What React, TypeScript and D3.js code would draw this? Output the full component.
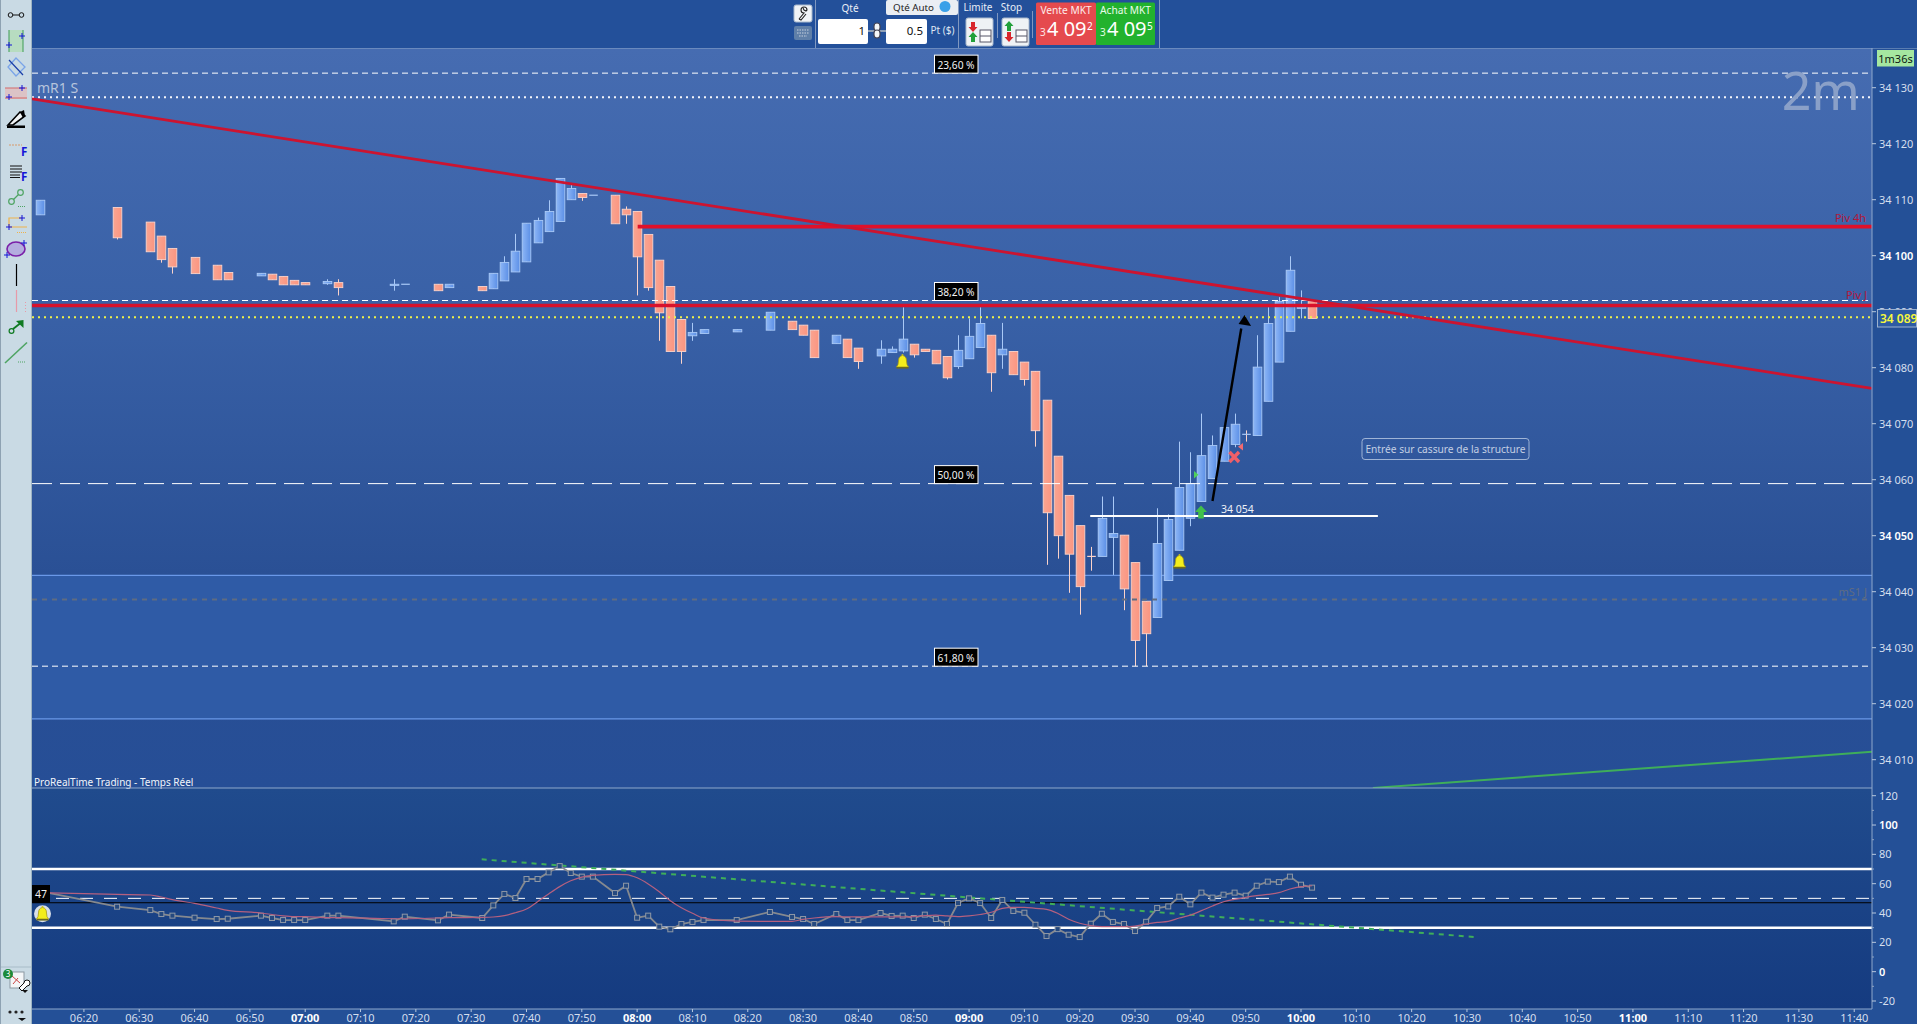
import * as d3 from "d3";

const WIDTH = 1917;
const HEIGHT = 1024;
const FONT = "'Noto Sans', 'Open Sans', sans-serif";

// bars, time of the 2 minute candle
const barTimes = [
  "06:12", "06:26", "06:32", "06:34", "06:36", "06:40", "06:44", "06:46", "06:52", "06:54", "06:56", "06:58", "07:00",
  "07:04", "07:06", "07:16", "07:18", "07:24", "07:26", "07:32", "07:34", "07:36", "07:38", "07:40", "07:42", "07:44",
  "07:46", "07:48", "07:50", "07:52", "07:56", "07:58", "08:00", "08:02", "08:04", "08:06", "08:08", "08:10", "08:12",
  "08:18", "08:24", "08:28", "08:30", "08:32", "08:36", "08:38", "08:40", "08:44", "08:46", "08:48", "08:50", "08:52",
  "08:54", "08:56", "08:58", "09:00", "09:02", "09:04", "09:06", "09:08", "09:10", "09:12", "09:14", "09:16", "09:18",
  "09:20", "09:22", "09:24", "09:26", "09:28", "09:30", "09:32", "09:34", "09:36", "09:38", "09:40", "09:42", "09:44",
  "09:46", "09:48", "09:50", "09:52", "09:54", "09:56", "09:58", "10:00", "10:02",
];
const opens = [
  34107.3, 34108.6, 34106, 34103.5, 34101.3, 34099.7, 34098.3, 34097, 34096.4, 34096.7, 34096.3, 34095.6, 34095.2,
  34095, 34095.2, 34094.7, 34094.9, 34094.9, 34094.3, 34094.5, 34094.1, 34095.5, 34097.1, 34098.9, 34102.3, 34104.3,
  34106.1, 34110, 34111.1, 34110.8, 34110.8, 34108.3, 34107.9, 34103.8, 34099.2, 34094.5, 34088.6, 34085.7, 34086.1,
  34086.4, 34086.7, 34088.3, 34087.6, 34086.7, 34084.3, 34085.1, 34083.5, 34082.1, 34082.7, 34083, 34084.2, 34083.3,
  34083.1, 34082, 34080.2, 34081.6, 34083.6, 34085.8, 34082.3, 34082.9, 34081, 34079.35, 34074.2, 34064.2, 34057.2,
  34051.8, 34046.3, 34046.3, 34049.7, 34050.1, 34045.2, 34038.3, 34035.4, 34042, 34047.4, 34053.1, 34056.1, 34060.2,
  34063.3, 34066.3, 34068.1, 34067.9, 34074, 34081, 34086.5, 34090.6, 34091.8,
];
const closes = [
  34109.9, 34103.2, 34100.7, 34099.3, 34098, 34096.8, 34095.7, 34095.7, 34096.85, 34095.7, 34094.8, 34094.8, 34094.8,
  34095.4, 34094.3, 34094.9, 34094.9, 34093.75, 34094.9, 34093.75, 34096.85, 34098.8, 34100.8, 34105.8, 34106.3, 34107.9,
  34113.8, 34112, 34110.4, 34110.8, 34105.7, 34107.3, 34099.8, 34094.3, 34089.8, 34082.9, 34082.9, 34086.3, 34086.8,
  34086.8, 34089.9, 34086.8, 34085.8, 34081.8, 34085.8, 34081.8, 34081.1, 34083.3, 34083.3, 34085.1, 34082.3, 34082.9,
  34080.7, 34078.2, 34083.1, 34085.6, 34087.9, 34079.1, 34083.3, 34078.75, 34077.9, 34068.75, 34054.1, 34050, 34046.7,
  34040.9, 34046.2, 34053.1, 34050.4, 34040.5, 34031.3, 34032.5, 34048.6, 34052.9, 34058.6, 34059.3, 34064.3, 34066.1,
  34069.3, 34069.9, 34068, 34080.1, 34087.9, 34091.8, 34097.4, 34090.8, 34088.8,
];
const highs = [
  34109.9, 34108.6, 34106, 34103.5, 34101.3, 34099.7, 34098.3, 34097, 34096.85, 34096.7, 34096.3, 34095.6, 34095.2,
  34095.8, 34095.8, 34095.8, 34094.9, 34094.9, 34094.9, 34094.5, 34096.85, 34099.9, 34103.9, 34105.8, 34106.8, 34109.9,
  34113.8, 34112.6, 34111.1, 34110.8, 34110.8, 34108.8, 34107.9, 34103.8, 34099.2, 34094.5, 34088.6, 34088, 34086.8,
  34086.8, 34089.9, 34088.3, 34087.6, 34086.7, 34085.8, 34085.1, 34083.5, 34084.9, 34083.8, 34090.8, 34084.2, 34083.3,
  34083.1, 34082, 34085.8, 34088.8, 34090.8, 34085.8, 34088, 34082.9, 34081, 34079.35, 34074.2, 34064.2, 34057.2,
  34051.8, 34048, 34057, 34057, 34050.1, 34045.2, 34038.3, 34054.9, 34053.8, 34066.8, 34064.9, 34071.8, 34067.9,
  34069.9, 34071.8, 34068.8, 34085.8, 34090.8, 34092.6, 34099.9, 34093.8, 34091.8,
];
const lows = [
  34107.3, 34102.9, 34100.7, 34098.75, 34096.8, 34096.8, 34095.7, 34095.7, 34096.4, 34095.7, 34094.8, 34094.8, 34094.8,
  34094.8, 34092.9, 34093.75, 34094.9, 34093.75, 34094.3, 34093.75, 34094.1, 34095.5, 34097.1, 34098.9, 34102.3, 34104.3,
  34106.1, 34110, 34109.8, 34110.8, 34105.7, 34105.7, 34092.9, 34093.75, 34084.8, 34082.9, 34080.7, 34084.8, 34086.1,
  34086.4, 34086.7, 34086.8, 34085.8, 34081.8, 34084.3, 34081.8, 34079.8, 34080.7, 34082.7, 34082.7, 34081.8, 34082.9,
  34080.7, 34077.9, 34079.8, 34081.6, 34083.6, 34075.7, 34079.8, 34078.75, 34076.8, 34065.9, 34044.8, 34045.9, 34039.8,
  34035.9, 34043.75, 34046.3, 34043, 34036.7, 34026.7, 34026.7, 34035.4, 34042, 34047.4, 34051.7, 34056.1, 34060.2,
  34063.3, 34065.8, 34066.8, 34067.9, 34074, 34081, 34086.5, 34088.8, 34088.8,
];

// oscillator, one value per bar
const oscValues = [
  55, 44.3, 42, 39.3, 38.2, 36.8, 35.9, 36.1, 38.2, 36.6, 35.2, 35.2, 35.2, 38.2, 38.2, 34.3, 37.5, 35, 38.9, 36.6,
  45.2, 53, 50.2, 63.2, 63.2, 67.7, 72, 67.3, 64.8, 64.8, 53.6, 58.6, 36.8, 38.2, 30.7, 28.9, 32.5, 33.9, 35.2, 35.2,
  40.7, 37.3, 35.9, 32.5, 39.3, 35.2, 35.2, 40, 38, 38.2, 36.6, 38.9, 35.9, 32.5, 46.8, 50, 46.8, 36.6, 48.9, 41.4,
  40.2, 32, 24.3, 29, 25.2, 23.6, 32.7, 39.5, 33.9, 32.5, 27.7, 34, 43.4, 44.5, 51.1, 45.9, 53.9, 50.5, 52.5, 53.9,
  51.8, 58.6, 61.4, 61.1, 64.8, 59.3, 57.3,
];
const oscAverage = [
  53.9, 52.7, 52.3, 50.9, 49.1, 46.6, 43.4, 41.8, 40, 39, 38, 37.5, 37.5, 36.8, 36.8, 36.1, 36.1, 36.6, 36.8, 37,
  37.3, 38.2, 40.2, 42.7, 47.7, 53, 58, 62, 64.5, 65.7, 66.4, 66.2, 64, 59.8, 54.5, 48.4, 43.6, 39.8, 36.6, 34.5,
  34.3, 34.3, 35.7, 36.6, 37.5, 37.3, 37.3, 37.3, 37.3, 37.3, 37.5, 38.2, 38.6, 38, 37.5, 38, 39, 40.5, 43.2, 43.9,
  43.9, 43.2, 42.5, 39.8, 35.7, 33, 31.4, 30.7, 30.7, 30.7, 31.1, 32.5, 33.6, 34.3, 36.6, 38.6, 41.6, 44.8, 47.7, 49.3,
  50.7, 51.8, 52.7, 53.9, 56.4, 58, 58.6,
];

const priceTicks = [34130, 34120, 34110, 34100, 34090, 34080, 34070, 34060, 34050, 34040, 34030, 34020, 34010];
const oscTicks = [120, 100, 80, 60, 40, 20, 0, -20];
const oscMinorTicks = [110, 90, 70, 50, 30, 10, -10];
const timeTicks = [
  "06:20", "06:30", "06:40", "06:50", "07:00", "07:10", "07:20", "07:30", "07:40", "07:50", "08:00", "08:10", "08:20",
  "08:30", "08:40", "08:50", "09:00", "09:10", "09:20", "09:30", "09:40", "09:50", "10:00", "10:10", "10:20", "10:30",
  "10:40", "10:50", "11:00", "11:10", "11:20", "11:30", "11:40",
];

// retracement levels
const fibLabels = ["23,60 %", "38,20 %", "50,00 %", "61,80 %"];
const fibPrices = [34132.6, 34092, 34059.3, 34026.7];

const CURRENT_PRICE = 34089;
const PIVOT_DAY = 34091.1;
const PIVOT_4H = 34105.2;
const MR1 = 34128.3;
const GREY_LEVEL = 34038.6;
const ZONE_TOP = 34042.9;
const ZONE_BOTTOM = 34017.3;
const ENTRY = 34053.5;

const minutes = (t: string) => {
  const [h, m] = t.split(":").map(Number);
  return h * 60 + m;
};

const PLOT = { left: 32, right: 1872, top: 48, mid: 788, bottom: 1009 };

const x = d3.scaleLinear().domain([420, 600]).range([305.2, 1301]);
const y = d3.scaleLinear().domain([34130, 34010]).range([87.7, 759.7]);
const oscY = d3.scaleLinear().domain([120, -20]).range([795.7, 1001]);

const priceFormat = d3.formatLocale({ decimal: ",", thousands: " ", grouping: [3], currency: ["", ""] }).format(",d");

const BODY = 8.6;

const oscLine = d3
  .line<number>()
  .x((_, i) => x(minutes(barTimes[i])))
  .y((d) => oscY(d));

const oscSmooth = d3
  .line<number>()
  .x((_, i) => x(minutes(barTimes[i])))
  .y((d) => oscY(d))
  .curve(d3.curveMonotoneX);

const Plus = ({ cx, cy }: { cx: number; cy: number }) => (
  <path d={`M${cx - 3},${cy}H${cx + 3}M${cx},${cy - 3}V${cy + 3}`} stroke="#1414d8" strokeWidth={1} fill="none" />
);

const Candles = () => (
  <g>
    {barTimes.map((t, i) => {
      const cx = Math.round(x(minutes(t))) + 0.5;
      const up = closes[i] >= opens[i];
      const top = y(Math.max(opens[i], closes[i]));
      const bottom = y(Math.min(opens[i], closes[i]));
      const edge = up ? "#a9c9f7" : "#fbd3ca";
      const doji = bottom - top < 1;
      return (
        <g key={t}>
          <line x1={cx} x2={cx} y1={y(highs[i])} y2={y(lows[i])} stroke={edge} strokeWidth={1} />
          {doji ? (
            <line x1={cx - BODY / 2} x2={cx + BODY / 2} y1={top} y2={top} stroke={i === 66 ? "#fbd3ca" : "#a9c9f7"} strokeWidth={1.2} />
          ) : (
            <rect
              x={cx - BODY / 2}
              y={top}
              width={BODY}
              height={bottom - top}
              fill={up ? "url(#upBody)" : "url(#downBody)"}
              stroke={edge}
              strokeWidth={0.9}
            />
          )}
        </g>
      );
    })}
  </g>
);

const Bell = ({ cx, cy }: { cx: number; cy: number }) => (
  <g transform={`translate(${cx},${cy})`}>
    <path d="M-6,5 Q-4,3 -4,-1 Q-4,-6 0,-6.5 Q4,-6 4,-1 Q4,3 6,5 Z" fill="#f4ee1c" stroke="#a59a18" strokeWidth={0.8} />
    <rect x={-6} y={5} width={12} height={1.6} fill="#6d6a20" />
    <circle cx={0} cy={-7} r={1} fill="#c9c21c" />
  </g>
);

const FibLabels = () => (
  <g>
    {fibLabels.map((label, i) => {
      const bottom = y(fibPrices[i]);
      return (
        <g key={label}>
          <rect x={934.5} y={bottom - 18} width={43.5} height={18} fill="#000" stroke="#fff" strokeWidth={1} />
          <text x={956} y={bottom - 4.5} textAnchor="middle" fontSize={10.2} fill="#f2f2f2" fontFamily={FONT}>
            {label}
          </text>
        </g>
      );
    })}
  </g>
);

const PriceAxis = () => (
  <g fontFamily={FONT} fontSize={11}>
    {priceTicks.map((p) => (
      <g key={p}>
        <line x1={PLOT.right} x2={PLOT.right + 4} y1={y(p)} y2={y(p)} stroke="#b8c8de" />
        <text x={1879} y={y(p) + 4} fill={p % 50 === 0 ? "#ffffff" : "#d5dfee"} fontWeight={p % 50 === 0 ? 600 : 400}>
          {priceFormat(p)}
        </text>
      </g>
    ))}
    <rect x={1877.5} y={309.5} width={39} height={17.5} fill="#2d5ba3" stroke="#9db2cf" strokeWidth={1} />
    <text x={1880} y={322.5} fill="#f6f63c" fontSize={12} fontWeight={600}>
      {priceFormat(CURRENT_PRICE)}
    </text>
    <rect x={1877} y={50} width={37} height={16.5} fill="#a5e7a0" />
    <text x={1895.5} y={62.5} textAnchor="middle" fill="#0c1a12" fontSize={11}>
      1m36s
    </text>
  </g>
);

const OscAxis = () => (
  <g fontFamily={FONT} fontSize={11}>
    {oscTicks.map((v) => (
      <g key={v}>
        <line x1={PLOT.right} x2={PLOT.right + 4} y1={oscY(v)} y2={oscY(v)} stroke="#b8c8de" />
        <text x={1879} y={oscY(v) + 4} fill={v % 100 === 0 ? "#ffffff" : "#d5dfee"} fontWeight={v % 100 === 0 ? 600 : 400}>
          {v}
        </text>
      </g>
    ))}
    {oscMinorTicks.map((v) => (
      <line key={v} x1={PLOT.right} x2={PLOT.right + 2} y1={oscY(v)} y2={oscY(v)} stroke="#8ea4c4" />
    ))}
  </g>
);

const TimeAxis = () => (
  <g fontFamily={FONT} fontSize={11}>
    {timeTicks.map((t) => {
      const hour = t.endsWith(":00");
      return (
        <g key={t}>
          <line x1={x(minutes(t))} x2={x(minutes(t))} y1={PLOT.bottom} y2={PLOT.bottom + 3} stroke="#b8c8de" />
          <text
            x={x(minutes(t))}
            y={1022}
            textAnchor="middle"
            fill={hour ? "#ffffff" : "#d5dfee"}
            fontWeight={hour ? 700 : 400}
          >
            {t}
          </text>
        </g>
      );
    })}
  </g>
);

const Oscillator = () => (
  <g>
    <line x1={PLOT.left} x2={PLOT.right} y1={oscY(70)} y2={oscY(70)} stroke="#fff" strokeWidth={2.4} />
    <line x1={PLOT.left} x2={PLOT.right} y1={oscY(30)} y2={oscY(30)} stroke="#fff" strokeWidth={2.4} />
    <line x1={56} x2={PLOT.right} y1={oscY(50)} y2={oscY(50)} stroke="#fff" strokeWidth={1} strokeDasharray="13 11" />
    <line x1={PLOT.left} x2={PLOT.right} y1={oscY(47)} y2={oscY(47)} stroke="#000" strokeWidth={1} />
    <line
      x1={x(451.9)}
      x2={x(631.5)}
      y1={oscY(76.6)}
      y2={oscY(23.6)}
      stroke="#3fae5a"
      strokeWidth={2}
      strokeDasharray="5 5"
    />
    <path d={oscLine(oscValues) ?? ""} fill="none" stroke="#85898f" strokeWidth={1.8} />
    {oscValues.map((v, i) => (
      <rect
        key={barTimes[i]}
        x={x(minutes(barTimes[i])) - 2.5}
        y={oscY(v) - 2.5}
        width={5}
        height={5}
        fill="#25497f"
        stroke="#8f98a6"
        strokeWidth={1}
      />
    ))}
    <path d={oscSmooth(oscAverage) ?? ""} fill="none" stroke="#b5607f" strokeWidth={1.2} />
    <rect x={PLOT.left} y={885} width={18} height={18} fill="#000" />
    <text x={41} y={898} textAnchor="middle" fontSize={10.5} fill="#f2f2f2" fontFamily={FONT}>
      47
    </text>
    <circle cx={42.5} cy={913.7} r={8.5} fill="#d9e0e8" />
    <Bell cx={42.5} cy={914} />
  </g>
);

const Levels = () => (
  <g clipPath="url(#mainClip)">
    {fibPrices.map((p, i) => (
      <line
        key={p}
        x1={PLOT.left}
        x2={PLOT.right}
        y1={y(p)}
        y2={y(p)}
        stroke="#fff"
        strokeWidth={1}
        strokeDasharray={i === 2 ? "20 8" : "6 4"}
      />
    ))}
    <line x1={PLOT.left} x2={PLOT.right} y1={y(MR1)} y2={y(MR1)} stroke="#f4f6fb" strokeWidth={2} strokeDasharray="2 4" />
    <line x1={PLOT.left} x2={PLOT.right} y1={y(GREY_LEVEL)} y2={y(GREY_LEVEL)} stroke="#5f6c82" strokeWidth={2} strokeDasharray="5 5" />
    <line x1={x(561.9)} x2={x(613.9)} y1={y(ENTRY)} y2={y(ENTRY)} stroke="#fff" strokeWidth={2} />
    <line x1={PLOT.left} x2={PLOT.right} y1={y(CURRENT_PRICE)} y2={y(CURRENT_PRICE)} stroke="#eef24a" strokeWidth={2} strokeDasharray="2 4" />
    <line x1={PLOT.left} x2={PLOT.right} y1={y(PIVOT_DAY)} y2={y(PIVOT_DAY)} stroke="#d8122c" strokeWidth={3.6} />
    <line x1={x(480.1)} x2={PLOT.right} y1={y(PIVOT_4H)} y2={y(PIVOT_4H)} stroke="#e0102a" strokeWidth={3.6} />
    <line x1={PLOT.left} x2={PLOT.right} y1={y(34128)} y2={y(34076.3)} stroke="#cc1430" strokeWidth={2.8} />
    <line x1={x(613)} x2={PLOT.right} y1={y(34004.95)} y2={y(34011.4)} stroke="#3fae5a" strokeWidth={2} />
  </g>
);

const Annotations = () => (
  <g fontFamily={FONT}>
    <line x1={x(584)} y1={y(34056.2)} x2={x(589.2)} y2={y(34087)} stroke="#000" strokeWidth={2.4} />
    <path
      d={`M${x(589.8)},${y(34089.4)} L${x(589.8) + 6.5},${y(34089.4) + 11} L${x(589.8) - 6},${y(34089.4) + 9} Z`}
      fill="#000"
    />
    <Bell cx={902.5} cy={362} />
    <Bell cx={1179.5} cy={562} />
    <path d="M1201,505.5 l6,6.5 h-3.2 v6.5 h-5.6 v-6.5 h-3.2 Z" fill="#42c04a" />
    <path d="M1194,471 l4.5,3.7 l-4.5,3.7 Z" fill="#4fd05a" />
    <path d="M1243,443 v7.5 l-5,-3.7 Z" fill="#f06a70" />
    <path d="M1229.5,452 L1239,462 M1239,452 L1229.5,462" stroke="#ef5f68" strokeWidth={3.4} />
    <text x={1221} y={513} fontSize={10.5} fill="#eef2f8">
      {priceFormat(34054)}
    </text>
    <rect x={1362} y={438.5} width={167} height={21} rx={3} fill="none" stroke="#9fb4d6" strokeWidth={1} />
    <text x={1445.5} y={453} textAnchor="middle" fontSize={10.2} fill="#c3cfe3">
      Entrée sur cassure de la structure
    </text>
    <text x={37} y={93} fontSize={14} fill="#b6c4dc">
      mR1 S
    </text>
    <text x={1860} y={110} textAnchor="end" fontSize={52} fill="#8aa0c8">
      2m
    </text>
    <text x={1866} y={222} textAnchor="end" fontSize={11} fill="#b3173a">
      Piv 4h
    </text>
    <text x={1867} y={299} textAnchor="end" fontSize={11} fill="#b3173a">
      Piv J
    </text>
    <text x={1867} y={596} textAnchor="end" fontSize={11} fill="#5f6c82">
      mS1 J
    </text>
    <text x={34} y={786} fontSize={10} fill="#f2f5fa">
      ProRealTime Trading - Temps Réel
    </text>
  </g>
);

const Toolbar = () => (
  <g>
    <rect x={0} y={0} width={32} height={HEIGHT} fill="#c9dae4" />
    <line x1={31.5} x2={31.5} y1={0} y2={HEIGHT} stroke="#9db3c2" />
    <line x1={0.5} x2={0.5} y1={0} y2={HEIGHT} stroke="#8ea2b2" />
    {/* connector */}
    <g fill="none" stroke="#111">
      <circle cx={10.5} cy={15} r={2.3} />
      <circle cx={21.5} cy={15} r={2.3} />
      <line x1={13} x2={19} y1={15} y2={15} />
    </g>
    {/* zone */}
    <rect x={9} y={30} width={14} height={22} fill="#b7dcc0" />
    <path d="M9,30V52M23,30V52" stroke="#3f9c55" />
    <Plus cx={22} cy={36} />
    <Plus cx={9} cy={45} />
    {/* diamond */}
    <path d="M16,58 L25,67 L16,76 L8,67 Z" fill="none" stroke="#7aa4e8" strokeWidth={1.3} />
    <line x1={9} x2={23} y1={60} y2={75} stroke="#1a3ea8" strokeWidth={1.2} />
    {/* red band */}
    <rect x={5} y={88} width={22} height={11} fill="#dcc3c6" />
    <path d="M5,88H27M5,98H27" stroke="#d26a6a" />
    <Plus cx={22} cy={88} />
    <Plus cx={9} cy={97} />
    {/* pencil */}
    <path d="M7,125.5 H25 V128 H7 Z" fill="#000" />
    <path d="M8,125 L20,112 L25,116 L13,125 Z" fill="#f2f5f6" stroke="#000" strokeWidth={1.6} />
    <path d="M20,112 L24,110 L25,116 L23,118 Z" fill="#000" />
    {/* fib */}
    <line x1={9} x2={22} y1={145} y2={145} stroke="#d89a6a" strokeDasharray="2 1" />
    <text x={21} y={156} fontSize={11.5} fontWeight={700} fill="#1414d8" fontFamily={FONT}>
      F
    </text>
    <path d="M10,166H22M10,169H22M10,172H22M10,175H20M10,177.5H20" stroke="#111" strokeWidth={1} />
    <text x={21} y={180.5} fontSize={11.5} fontWeight={700} fill="#1414d8" fontFamily={FONT}>
      F
    </text>
    {/* linked points */}
    <g fill="none" stroke="#4ea463" strokeWidth={1.2}>
      <circle cx={11.5} cy={201.5} r={2.8} />
      <circle cx={20.5} cy={192.5} r={2.8} />
      <line x1={13.5} x2={18.5} y1={199.5} y2={194.5} />
      <line x1={18} x2={26} y1={206.5} y2={206.5} strokeDasharray="1 1" />
    </g>
    {/* channel */}
    <path d="M9,227V218H22M9,227H27" fill="none" stroke="#efb24a" strokeWidth={1.2} />
    <line x1={17} x2={26} y1={232.5} y2={232.5} stroke="#efb24a" strokeDasharray="1 1" />
    <Plus cx={22} cy={218} />
    <Plus cx={9} cy={227} />
    {/* ellipse */}
    <ellipse cx={16} cy={249} rx={9} ry={7} fill="#b4addf" stroke="#7a1fa8" strokeWidth={1.6} />
    <Plus cx={24} cy={243} />
    <Plus cx={7} cy={255} />
    {/* vertical lines */}
    <line x1={16.5} x2={16.5} y1={264} y2={286} stroke="#000" strokeWidth={1.2} />
    <line x1={16.5} x2={16.5} y1={290} y2={312} stroke="#e79aa8" strokeWidth={1.2} />
    <line x1={25.5} x2={25.5} y1={302} y2={312} stroke="#e79aa8" strokeDasharray="1 2" />
    {/* arrow */}
    <circle cx={11.5} cy={331} r={2.4} fill="none" stroke="#0f7a22" strokeWidth={1.2} />
    <line x1={13} x2={20} y1={329} y2={323.5} stroke="#0f7a22" strokeWidth={1.8} />
    <path d="M23.5,320 V328 L16,321 Z" fill="#0f7a22" />
    {/* segment */}
    <line x1={5} x2={27} y1={363} y2={342.5} stroke="#4ea463" strokeWidth={1.6} />
    <line x1={18} x2={26} y1={362} y2={362} stroke="#4ea463" strokeDasharray="1 1" />
    {/* bottom tools */}
    <line x1={1} x2={31} y1={967} y2={967} stroke="#a8bcc8" />
    <rect x={10} y={972} width={14} height={16} fill="#f4f6f8" stroke="#8c98a2" />
    <path d="M12,976L20,983M13,984L18,978" stroke="#c44" fill="none" />
    <circle cx={8} cy={974} r={5} fill="#1c8a3a" />
    <text x={8} y={977} textAnchor="middle" fontSize={8} fill="#fff" fontFamily={FONT}>
      3
    </text>
    <path d="M19,988 L24,983 a3,3 0 1 1 3,3 L22,991 Z" fill="#fff" stroke="#111" />
    <path d="M22,990h6l-3,3Z" fill="#111" />
    <g fill="#222">
      <circle cx={10} cy={1012} r={1.6} />
      <circle cx={16} cy={1012} r={1.6} />
      <circle cx={22} cy={1012} r={1.6} />
    </g>
    <path d="M18,1018h8l-4,3Z" fill="#111" />
  </g>
);

const TopBar = () => (
  <g fontFamily={FONT}>
    <rect x={32} y={0} width={WIDTH - 32} height={PLOT.top} fill="#23509a" />
    <path d="M815.5,0V48M958.5,0V48M1159.5,0V48" stroke="#8098c0" />
    <path d="M997.5,13V38M1032.5,11V38" stroke="#7f97c0" />
    <rect x={794} y={5} width={18} height={17} rx={2} fill="#f0f3f6" stroke="#a8b8cc" />
    <path d="M799,19 L804,13 a3,3 0 1 1 3,-3 l-1,1 l-2,-1 l-1,-2 M799,19 l2,1 l5,-6" fill="none" stroke="#222" strokeWidth={1.1} />
    <rect x={794} y={26} width={18} height={14} rx={2} fill="#5f7fa8" />
    <path d="M797,30H809M797,33H809M799,36H807" stroke="#a4b6cc" strokeDasharray="1.5 1" strokeWidth={1.5} />
    <text x={850} y={12} textAnchor="middle" fontSize={10} fill="#e8eef6">
      Qté
    </text>
    <rect x={818} y={19} width={50} height={25} rx={2} fill="#fff" />
    <rect x={886} y={19} width={41} height={25} rx={2} fill="#fff" />
    <line x1={868} x2={886} y1={31} y2={31} stroke="#8ea0b8" strokeWidth={2} />
    <rect x={874} y={23} width={6} height={8} rx={3} fill="#f4f6f8" stroke="#445" strokeWidth={1.2} />
    <rect x={874} y={30} width={6} height={8} rx={3} fill="#f4f6f8" stroke="#445" strokeWidth={1.2} />
    <text x={865} y={35} textAnchor="end" fontSize={11.5} fill="#111">
      1
    </text>
    <text x={923} y={35} textAnchor="end" fontSize={11.5} fill="#111">
      0.5
    </text>
    <text x={930.5} y={34} fontSize={10} fill="#dfe7f2">
      Pt ($)
    </text>
    <rect x={886} y={0} width={72} height={15} rx={2} fill="#eaeef3" />
    <text x={893} y={11} fontSize={9.8} fill="#222">
      Qté Auto
    </text>
    <circle cx={945} cy={6.5} r={5.5} fill="#3aa0e8" />
    <text x={978} y={10.5} textAnchor="middle" fontSize={10} fill="#e8eef6">
      Limite
    </text>
    <text x={1011.5} y={10.5} textAnchor="middle" fontSize={10} fill="#e8eef6">
      Stop
    </text>
    {[966, 1002].map((bx, i) => (
      <g key={bx}>
        <rect x={bx} y={18} width={27} height={28} rx={2} fill="#eef2f5" stroke="#a8b8cc" />
        <path d={`M${bx + 7},${i ? 32 : 22}h-2v5h-2.5l4.5,5l4.5,-5h-2.5v-5Z`} fill="#d8262c" />
        <path d={`M${bx + 7},${i ? 21 : 32}l-4.5,5h2.5v5h4v-5h2.5Z`} fill="#22a03a" />
        <rect x={bx + 14} y={30} width={11} height={12} fill="#fdfdfd" stroke="#556" />
        <line x1={bx + 14} x2={bx + 25} y1={36} y2={36} stroke="#556" />
      </g>
    ))}
    <rect x={1036} y={2.5} width={60} height={42.5} rx={1.5} fill="#e54a4e" />
    <rect x={1096} y={2.5} width={59} height={42.5} rx={1.5} fill="#22b22e" />
    <text x={1066} y={14} textAnchor="middle" fontSize={10.2} fill="#fdeaea">
      Vente MKT
    </text>
    <text x={1125.5} y={14} textAnchor="middle" fontSize={10.2} fill="#eafbea">
      Achat MKT
    </text>
    <text x={1040} y={36} fontSize={10} fill="#ffe4e4">
      3
    </text>
    <text x={1047} y={36} fontSize={20} fill="#fff">
      4 09
    </text>
    <text x={1087} y={30} fontSize={10} fill="#fff">
      2
    </text>
    <text x={1100} y={36} fontSize={10} fill="#e0ffe0">
      3
    </text>
    <text x={1107} y={36} fontSize={20} fill="#fff">
      4 09
    </text>
    <text x={1147} y={30} fontSize={10} fill="#fff">
      5
    </text>
  </g>
);

export default function App() {
  return (
    <svg width={WIDTH} height={HEIGHT} style={{ position: "absolute", left: 0, top: 0, display: "block" }}>
      <defs>
        <linearGradient id="mainBg" x1="0" x2="0" y1="0" y2="1">
          <stop offset="0" stopColor="#466cb1" />
          <stop offset="0.35" stopColor="#3961a7" />
          <stop offset="0.71" stopColor="#2a5095" />
          <stop offset="1" stopColor="#264e96" />
        </linearGradient>
        <linearGradient id="oscBg" x1="0" x2="0" y1="0" y2="1">
          <stop offset="0" stopColor="#204b8d" />
          <stop offset="1" stopColor="#153b80" />
        </linearGradient>
        <linearGradient id="upBody" x1="0" x2="1" y1="0" y2="0">
          <stop offset="0" stopColor="#8db6f6" />
          <stop offset="1" stopColor="#5b8fe6" />
        </linearGradient>
        <linearGradient id="downBody" x1="0" x2="1" y1="0" y2="0">
          <stop offset="0" stopColor="#f9a592" />
          <stop offset="1" stopColor="#fb9580" />
        </linearGradient>
        <clipPath id="mainClip">
          <rect x={PLOT.left} y={PLOT.top} width={PLOT.right - PLOT.left} height={PLOT.mid - PLOT.top} />
        </clipPath>
      </defs>
      <rect x={0} y={0} width={WIDTH} height={HEIGHT} fill="#245097" />
      <rect x={PLOT.left} y={PLOT.top} width={PLOT.right - PLOT.left} height={PLOT.mid - PLOT.top} fill="url(#mainBg)" />
      <rect x={PLOT.left} y={PLOT.mid} width={PLOT.right - PLOT.left} height={PLOT.bottom - PLOT.mid} fill="url(#oscBg)" />
      <rect x={PLOT.left} y={y(ZONE_TOP)} width={PLOT.right - PLOT.left} height={y(ZONE_BOTTOM) - y(ZONE_TOP)} fill="#2f5ba6" />
      <path d={`M${PLOT.left},${y(ZONE_TOP)}H${PLOT.right}M${PLOT.left},${y(ZONE_BOTTOM)}H${PLOT.right}`} stroke="#6a98e8" strokeWidth={1.2} />
      <Candles />
      <Levels />
      <FibLabels />
      <Annotations />
      <Oscillator />
      <path
        d={`M${PLOT.left},${PLOT.top}H${WIDTH}M${PLOT.left},${PLOT.mid}H${PLOT.right}M${PLOT.left},${PLOT.bottom}H${PLOT.right}M${PLOT.right},${PLOT.top}V${PLOT.bottom}`}
        stroke="#8ea8cc"
        fill="none"
      />
      <PriceAxis />
      <OscAxis />
      <TimeAxis />
      <TopBar />
      <Toolbar />
    </svg>
  );
}
